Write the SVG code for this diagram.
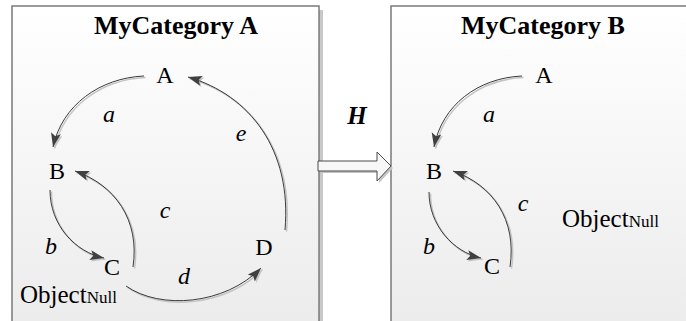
<svg xmlns="http://www.w3.org/2000/svg" width="686" height="321" viewBox="0 0 686 321">
<style>
text{font-family:'Liberation Serif','Times New Roman','DejaVu Serif',serif;fill:#000}
.box{stroke:#7a7a7a;stroke-width:1.5;fill:url(#bg)}
.boxsh{fill:#c8c8c8}
.title{font-weight:bold;font-size:26px;text-anchor:middle}
.node{font-size:24px;text-anchor:middle}
.lbl{font-style:italic;font-size:24px;text-anchor:middle}
.obj{font-size:25px}
.edge{fill:none;stroke:#3a3a3a;stroke-width:1;marker-end:url(#ah)}
.edgesh{fill:none;stroke:#c4c4c4;stroke-width:1.5;marker-end:url(#ahs)}
</style>
<defs>
<linearGradient id="bg" x1="0" y1="0" x2="0" y2="1">
<stop offset="0" stop-color="#ffffff"/>
<stop offset="1" stop-color="#ebebeb"/>
</linearGradient>
<marker id="ah" markerUnits="userSpaceOnUse" markerWidth="16" markerHeight="12" refX="14" refY="5" orient="auto">
<path d="M0,0 L14,5 L0,10 L3,5 z" fill="#404040"/>
</marker>
<marker id="ahs" markerUnits="userSpaceOnUse" markerWidth="16" markerHeight="12" refX="14" refY="5" orient="auto">
<path d="M0,0 L14,5 L0,10 L3,5 z" fill="#c4c4c4"/>
</marker>
</defs>

<g id="categoryA">
<rect class="boxsh" x="319" y="10" width="4" height="320"/>
<rect class="box" x="12" y="6" width="307" height="330"/>
<text class="title" x="176" y="34">MyCategory A</text>
</g>
<g id="categoryB">
<rect class="box" x="391" y="6" width="310" height="330"/>
<text class="title" x="543" y="34">MyCategory B</text>
</g>

<g id="functorH">
<path d="M320,163 L379,163 L379,154 L393,168 L379,183 L379,173 L320,173 z" fill="#c4c4c4"/>
<path d="M318,161 L377,161 L377,152 L391,166 L377,181 L377,171 L318,171 z" fill="#f7f7f7" stroke="#4a4a4a" stroke-width="1"/>
<text x="357" y="124" font-weight="bold" font-style="italic" font-size="25" text-anchor="middle">H</text>
</g>

<g id="connectors">
<g transform="translate(1.5,1.5)">
<path class="edgesh" d="M144,76 C100,78 62,105 53,147"/>
<path class="edgesh" d="M285,230 C292,150 250,95 188,77"/>
<path class="edgesh" d="M50,190 C50,225 75,252 104,258"/>
<path class="edgesh" d="M133,267 C140,220 115,185 75,171"/>
<path class="edgesh" d="M126,286 C160,310 225,305 261,268"/>
<path class="edgesh" d="M522,76 C478,78 442,105 434,147"/>
<path class="edgesh" d="M429,192 C429,225 453,252 481,258"/>
<path class="edgesh" d="M510,267 C517,220 493,185 453,171"/>
</g>
<path class="edge" d="M144,76 C100,78 62,105 53,147"/>
<path class="edge" d="M285,230 C292,150 250,95 188,77"/>
<path class="edge" d="M50,190 C50,225 75,252 104,258"/>
<path class="edge" d="M133,267 C140,220 115,185 75,171"/>
<path class="edge" d="M126,286 C160,310 225,305 261,268"/>
<path class="edge" d="M522,76 C478,78 442,105 434,147"/>
<path class="edge" d="M429,192 C429,225 453,252 481,258"/>
<path class="edge" d="M510,267 C517,220 493,185 453,171"/>
</g>

<g id="edgeLabels">
<text class="lbl" x="109" y="122">a</text>
<text class="lbl" x="241" y="141">e</text>
<text class="lbl" x="165" y="218">c</text>
<text class="lbl" x="51" y="254">b</text>
<text class="lbl" x="184" y="284">d</text>
<text class="lbl" x="489" y="122">a</text>
<text class="lbl" x="523" y="211">c</text>
<text class="lbl" x="429" y="254">b</text>
</g>

<g id="A1"><text class="node" x="165" y="83">A</text></g>
<g id="B1"><text class="node" x="57" y="179">B</text></g>
<g id="C1"><text class="node" x="112" y="275">C</text></g>
<g id="D1"><text class="node" x="264" y="255">D</text></g>
<g id="ObjNull1"><text class="obj" x="20" y="303">Object<tspan font-size="17">Null</tspan></text></g>

<g id="A2"><text class="node" x="544" y="83">A</text></g>
<g id="B2"><text class="node" x="434" y="179">B</text></g>
<g id="C2"><text class="node" x="492" y="274">C</text></g>
<g id="ObjNull2"><text class="obj" x="562" y="227">Object<tspan font-size="17">Null</tspan></text></g>
</svg>
